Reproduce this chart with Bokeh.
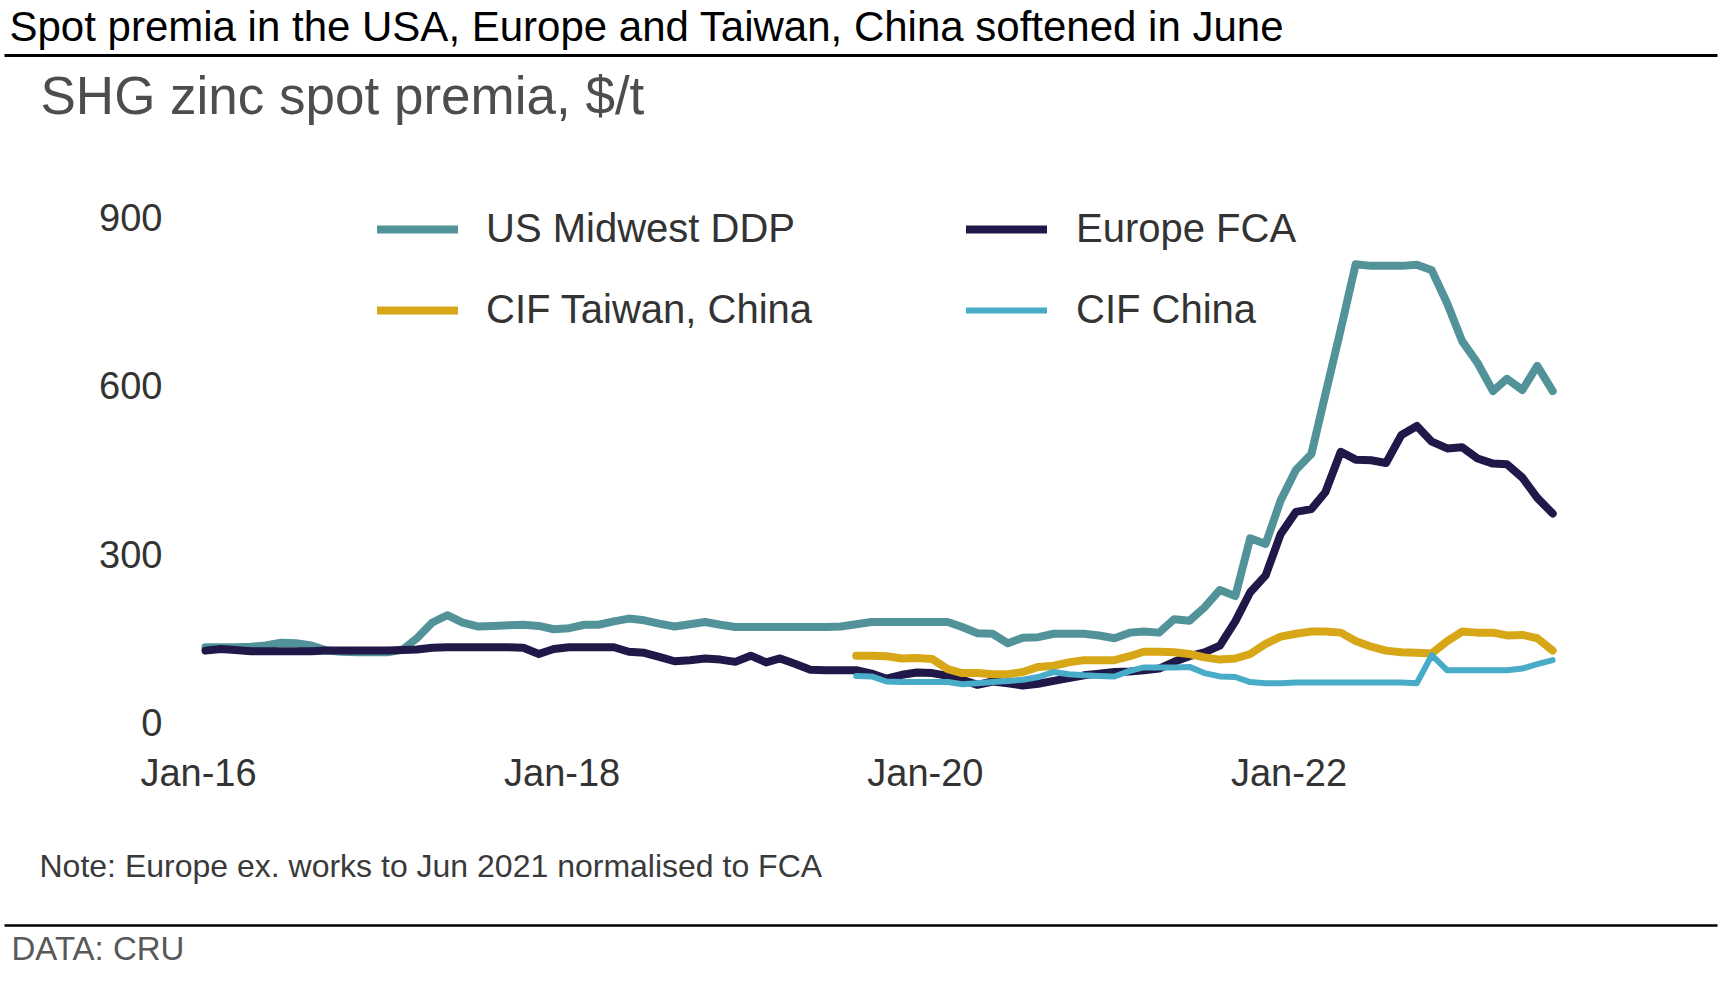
from datetime import datetime, timedelta
import pandas as pd
from bokeh.plotting import figure
from bokeh.models import Range1d, FixedTicker, Legend, LegendItem, ColumnDataSource
from bokeh.layouts import column
from bokeh.embed import file_html
from bokeh.resources import INLINE
from bokeh.core.properties import value

# ---------------- data ----------------
TITLE = "Spot premia in the USA, Europe and Taiwan, China softened in June"
SUBTITLE = "SHG zinc spot premia, $/t"
NOTE = "Note: Europe ex. works to Jun 2021 normalised to FCA"
SOURCE = "DATA: CRU"

series_names = ["US Midwest DDP", "Europe FCA", "CIF Taiwan, China", "CIF China"]

# monthly observations Jan-2016 .. Jun-2023 (mid-month)
months = pd.date_range("2016-01-15", periods=90, freq=pd.DateOffset(months=1))

us_midwest = [
    134, 134, 134, 135, 137, 142, 141, 137, 128, 126,
    125, 125, 125, 130, 150, 178, 191, 178, 171, 172,
    173, 174, 172, 166, 168, 174, 174, 180, 185, 182,
    176, 171, 175, 179, 174, 170, 170, 170, 170, 170,
    170, 170, 171, 175, 179, 179, 179, 179, 179, 179,
    170, 159, 158, 141, 151, 152, 158, 158, 158, 155,
    150, 160, 162, 160, 184, 181, 205, 236, 225, 328,
    318, 395, 450, 478, 584, 700, 816, 813, 813, 813,
    815, 805, 746, 679, 640, 590, 612, 592, 635, 590,
]

europe_fca = [
    128, 131, 129, 127, 127, 127, 127, 127, 128, 128,
    128, 128, 128, 129, 130, 133, 134, 134, 134, 134,
    134, 133, 122, 131, 134, 134, 134, 134, 126, 124,
    117, 109, 111, 114, 112, 108, 119, 107, 114, 104,
    94, 93, 93, 93, 87, 78, 85, 89, 88, 83,
    76, 67, 73, 70, 66, 69, 74, 79, 84, 87,
    90, 91, 93, 96, 108, 118, 125, 137, 180, 232,
    262, 335, 375, 380, 410, 482, 468, 467, 462, 512,
    528, 500, 488, 490, 470, 461, 460, 436, 400, 372,
]

# Asian premia start in Aug-2019
asia_start = 43
cif_taiwan = [
    119, 119, 118, 114, 115, 113, 95, 88, 88, 86,
    86, 90, 99, 101, 107, 111, 111, 111, 118, 126,
    126, 125, 122, 116, 112, 114, 122, 140, 153, 158,
    162, 162, 160, 145, 135, 128, 125, 124, 123, 145,
    162, 160, 160, 155, 156, 150, 128,
]
cif_china = [
    83, 82, 73, 72, 72, 72, 72, 68, 70, 72,
    74, 76, 81, 90, 86, 84, 83, 82, 92, 98,
    98, 98, 99, 88, 82, 81, 72, 70, 70, 71,
    71, 71, 71, 71, 71, 71, 71, 70, 120, 93,
    93, 93, 93, 93, 96, 104, 111,
]

tick_dates = ["2016-01-01", "2018-01-01", "2020-01-01", "2022-01-01"]
tick_labels = ["Jan-16", "Jan-18", "Jan-20", "Jan-22"]
y_ticks = [0, 300, 600, 900]

# ---------------- style ----------------
FONT = "Liberation Sans"
TEAL = "#52939a"
NAVY = "#201848"
GOLD = "#d7a717"
SKY = "#48abc7"
W = 1724


def no_align(fig):
    try:
        fig.frame_align = False
    except Exception:
        pass


def deco_figure(height):
    f = figure(width=W, height=height, x_range=Range1d(0, W), y_range=Range1d(height, 0),
               x_axis_type=None, y_axis_type=None, min_border=0,
               output_backend="svg", toolbar_location=None)
    f.outline_line_color = None
    f.background_fill_color = "white"
    f.border_fill_color = "white"
    no_align(f)
    return f


def put_text(fig, x, baseline, txt, size_px, color):
    # text drawn centred on its em box; shift so the baseline lands where wanted
    fig.text(x=[x], y=[baseline - 0.3465 * size_px], text=[txt], text_font=value(FONT),
             text_font_size=f"{size_px}px", text_color=color,
             text_baseline="middle", text_align="left")


def put_rule(fig, y, thick):
    fig.segment(x0=[4], y0=[y], x1=[1717], y1=[y], line_width=thick, line_color="#000000")


# ---------------- header ----------------
HH = 180
h = deco_figure(HH)
put_text(h, 9, 40.5, TITLE, 42, "#000000")
put_rule(h, 55, 3)
put_text(h, 40, 113, SUBTITLE, 53, "#4d4d4d")

# ---------------- main chart ----------------
MH = 620
FL, FR, FB = 198, 1620, 542          # frame edges inside the main figure
x0 = datetime(2016, 1, 1)
p = figure(width=W, height=MH, x_axis_type="datetime",
           x_range=Range1d(x0, x0 + timedelta(days=(FR - FL) / 0.4975)),
           y_range=Range1d(0, 965),
           min_border_left=FL, min_border_right=W - FR, min_border_top=0,
           min_border_bottom=MH - FB, output_backend="svg", toolbar_location=None)
no_align(p)
p.outline_line_color = None
p.xgrid.visible = False
p.ygrid.visible = False
p.background_fill_color = "white"
p.border_fill_color = "white"

main_src = ColumnDataSource(dict(date=months, us=us_midwest, eu=europe_fca))
asia_src = ColumnDataSource(dict(date=months[asia_start:], tw=cif_taiwan, cn=cif_china))

r_us = p.line("date", "us", source=main_src, line_width=8, line_color=TEAL,
              line_cap="round", line_join="round")
r_eu = p.line("date", "eu", source=main_src, line_width=8, line_color=NAVY,
              line_cap="round", line_join="round")
r_tw = p.line("date", "tw", source=asia_src, line_width=8, line_color=GOLD,
              line_cap="round", line_join="round")
r_cn = p.line("date", "cn", source=asia_src, line_width=6, line_color=SKY,
              line_cap="round", line_join="round")

tick_ms = [pd.Timestamp(d).timestamp() * 1000 for d in tick_dates]
p.xaxis.ticker = FixedTicker(ticks=tick_ms)
p.xaxis.major_label_overrides = {t: l for t, l in zip(tick_ms, tick_labels)}
p.yaxis.ticker = FixedTicker(ticks=y_ticks)

for ax in (p.xaxis[0], p.yaxis[0]):
    ax.axis_line_color = None
    ax.major_tick_line_color = None
    ax.minor_tick_line_color = None
    ax.major_tick_out = 0
    ax.major_tick_in = 0
    ax.major_label_text_font = FONT
    ax.major_label_text_font_size = "38px"
    ax.major_label_text_color = "#333333"
p.xaxis.major_label_standoff = 29
p.yaxis.major_label_standoff = 36


def make_legend(items, loc, standoff):
    return Legend(items=items, location=loc, orientation="vertical",
                  glyph_width=81, glyph_height=40, label_height=40, label_standoff=standoff,
                  spacing=36, padding=0, margin=0, border_line_color=None,
                  background_fill_alpha=0, label_text_font=FONT,
                  label_text_font_size="40px", label_text_color="#333333")


leg1 = make_legend([LegendItem(label=series_names[0], renderers=[r_us]),
                    LegendItem(label=series_names[2], renderers=[r_tw])], (179, 390), 28)
leg2 = make_legend([LegendItem(label=series_names[1], renderers=[r_eu]),
                    LegendItem(label=series_names[3], renderers=[r_cn])], (768, 390), 29)
p.add_layout(leg1, "center")
p.add_layout(leg2, "center")

# ---------------- footer ----------------
FH = 178
f = deco_figure(FH)
put_text(f, 39, 76.5, NOTE, 32, "#3a3a3a")
put_rule(f, 125, 2.5)
put_text(f, 11, 159, SOURCE, 33, "#595959")

layout = column(h, p, f)
open("out.html", "w").write(file_html(layout, INLINE))
